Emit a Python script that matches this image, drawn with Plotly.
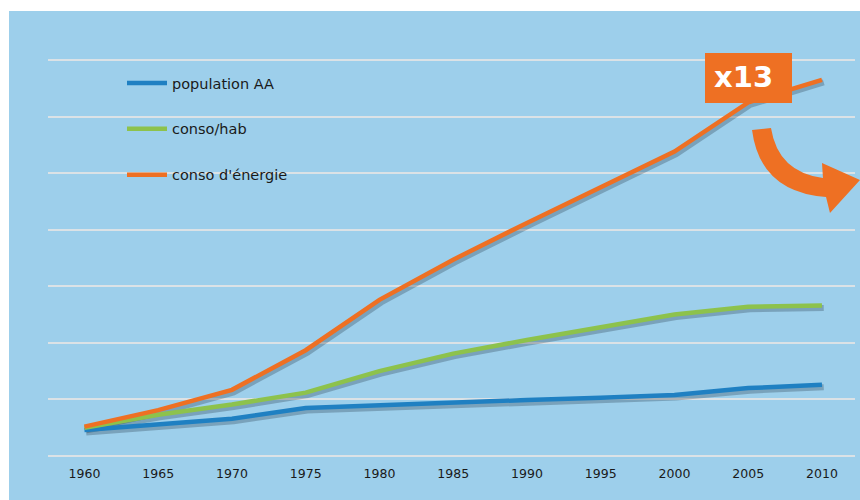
import plotly.graph_objects as go

years = [1960, 1965, 1970, 1975, 1980, 1985, 1990, 1995, 2000, 2005, 2010]
population_aa = [0.46, 0.57, 0.66, 0.85, 0.90, 0.94, 0.99, 1.03, 1.08, 1.20, 1.26]
conso_hab = [0.50, 0.73, 0.91, 1.12, 1.50, 1.81, 2.05, 2.28, 2.50, 2.64, 2.66]
conso_energie = [0.52, 0.81, 1.17, 1.87, 2.76, 3.47, 4.12, 4.74, 5.38, 6.25, 6.65]
series_names = ["population AA", "conso/hab", "conso d'énergie"]
series_colors = ["#1f80c2", "#8dc24c", "#ee7023"]
badge_text = "x13"

W, H = 860, 500
L, R, T, B = 48, 5, 50, 44
pw, ph = W - L - R, H - T - B
UNIT_PX = 56.57  # pixels per y unit
YMAX = ph / UNIT_PX


def X(px):
    return (px - L) / pw


def Y(py):
    return (H - B - py) / ph


fig = go.Figure()
series = [population_aa, conso_hab, conso_energie]

# soft drop shadows
for vals in series:
    fig.add_trace(go.Scatter(
        x=[y + 0.12 for y in years], y=[v - 0.045 for v in vals],
        mode="lines", line=dict(color="rgba(10,20,35,0.24)", width=6),
        showlegend=False, hoverinfo="skip"))

for i, (name, vals, col) in enumerate(zip(series_names, series, series_colors)):
    fig.add_trace(go.Scatter(
        x=years, y=vals, name=name, mode="lines",
        line=dict(color=col, width=4.5), legendgroup=str(i)))

bg = "#9dcfeb"
shapes = [
    dict(type="rect", xref="paper", yref="paper", x0=X(0), x1=X(9), y0=Y(500), y1=Y(0),
         fillcolor="white", line=dict(width=0), layer="above"),
    dict(type="rect", xref="paper", yref="paper", x0=X(0), x1=X(860), y0=Y(11), y1=Y(0),
         fillcolor="white", line=dict(width=0), layer="above"),
    dict(type="rect", xref="paper", yref="paper", x0=X(705), x1=X(792), y0=Y(103), y1=Y(53),
         fillcolor="#ee7023", line=dict(width=0), layer="above"),
]

pts = [("M", 752, 130), ("Q", 760, 192, 826, 197), ("L", 830, 213), ("L", 860, 180),
       ("L", 822, 163), ("L", 823, 178), ("Q", 778, 172, 771, 128)]
path = ""
for p in pts:
    cmd = p[0]
    coords = p[1:]
    segs = []
    for k in range(0, len(coords), 2):
        segs.append(f"{X(coords[k]):.4f},{Y(coords[k+1]):.4f}")
    path += cmd + " " + " ".join(segs) + " "
path += "Z"
shapes.append(dict(type="path", xref="paper", yref="paper", path=path,
                   fillcolor="#ee7023", line=dict(width=0), layer="above"))

fig.update_layout(
    width=W, height=H,
    margin=dict(l=L, r=R, t=T, b=B),
    paper_bgcolor=bg, plot_bgcolor=bg,
    shapes=shapes,
    annotations=[dict(text=badge_text, xref="paper", yref="paper",
                      x=X(743.5), y=Y(77), xanchor="center", yanchor="middle",
                      showarrow=False,
                      font=dict(family="DejaVu Sans", size=29, color="white", weight="bold"))],
    legend=dict(x=X(122), y=Y(67), xanchor="left", yanchor="top",
                bgcolor="rgba(0,0,0,0)", tracegroupgap=24, itemwidth=40,
                font=dict(family="DejaVu Sans", size=14.5, color="#1a1a1a")),
    xaxis=dict(range=[1957.53, 2012.24], tickvals=years, ticktext=[str(y) for y in years],
               showgrid=False, zeroline=False, showline=False, ticks="",
               ticklabelstandoff=8,
               tickfont=dict(family="DejaVu Sans", size=12.5, color="#1a1a1a")),
    yaxis=dict(range=[0, YMAX], dtick=1, showticklabels=False, showgrid=True,
               gridcolor="#dbe2e6", gridwidth=2, zeroline=True, zerolinecolor="#dbe2e6",
               zerolinewidth=2),
    showlegend=True,
)

fig.write_html("out.html")
